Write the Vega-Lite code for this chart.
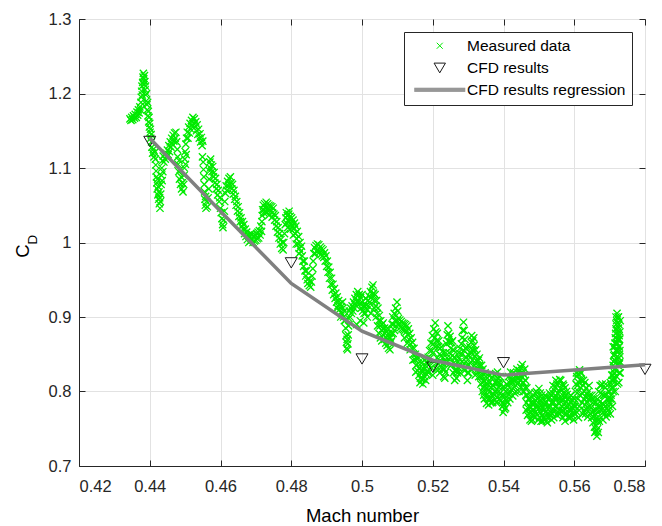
{
"$schema": "https://vega.github.io/schema/vega-lite/v6.json",
"width": 566, "height": 447,
"autosize": {"type": "none"},
"padding": {"left": 79, "top": 19, "right": 17, "bottom": 60},
"background": "white",
"config": {
 "view": {"stroke": "#262626", "strokeWidth": 1},
 "axis": {"labelFont": "Liberation Sans", "labelFontSize": 16.5, "labelColor": "#262626", "titleFont": "Liberation Sans", "titleFontWeight": "normal", "titleColor": "#000000", "domainColor": "#262626", "tickColor": "#262626", "gridColor": "#e2e2e2", "gridWidth": 1, "gridOpacity": 1},
 "legend": {"orient": "top-right", "offset": 13, "padding": 6, "strokeColor": "#262626", "fillColor": "white", "labelFont": "Liberation Sans", "labelFontSize": 15.5, "labelColor": "#000000", "symbolSize": 36, "symbolStrokeWidth": 1, "symbolOffset": 22, "labelOffset": 19.5, "rowPadding": 5, "labelLimit": 0}
},
"datasets": {
 "measured": [
{"mach":0.4344,"cd":1.166},{"mach":0.4347,"cd":1.164},{"mach":0.4349,"cd":1.168},{"mach":0.4352,"cd":1.165},{"mach":0.4354,"cd":1.170},{"mach":0.4357,"cd":1.167},{"mach":0.4359,"cd":1.172},{"mach":0.4362,"cd":1.168},{"mach":0.4364,"cd":1.175},{"mach":0.4366,"cd":1.171},{"mach":0.4368,"cd":1.178},{"mach":0.4370,"cd":1.174},{"mach":0.4372,"cd":1.182},{"mach":0.4374,"cd":1.178},{"mach":0.4375,"cd":1.188},{"mach":0.4376,"cd":1.195},{"mach":0.4377,"cd":1.203},{"mach":0.4378,"cd":1.210},{"mach":0.4379,"cd":1.198},{"mach":0.4380,"cd":1.215},{"mach":0.4381,"cd":1.222},{"mach":0.4382,"cd":1.227},{"mach":0.4383,"cd":1.220},{"mach":0.4384,"cd":1.212},{"mach":0.4385,"cd":1.224},{"mach":0.4386,"cd":1.216},{"mach":0.4387,"cd":1.205},{"mach":0.4388,"cd":1.210},{"mach":0.4389,"cd":1.198},{"mach":0.4390,"cd":1.190},{"mach":0.4391,"cd":1.200},{"mach":0.4392,"cd":1.185},{"mach":0.4393,"cd":1.178},{"mach":0.4394,"cd":1.188},{"mach":0.4395,"cd":1.170},{"mach":0.4396,"cd":1.176},{"mach":0.4397,"cd":1.162},{"mach":0.4398,"cd":1.168},{"mach":0.4399,"cd":1.155},{"mach":0.4400,"cd":1.160},{"mach":0.4401,"cd":1.148},{"mach":0.4402,"cd":1.152},{"mach":0.4403,"cd":1.140},{"mach":0.4404,"cd":1.145},{"mach":0.4405,"cd":1.135},
{"mach":0.4406,"cd":1.128},{"mach":0.4408,"cd":1.120},{"mach":0.4410,"cd":1.125},{"mach":0.4412,"cd":1.115},{"mach":0.4414,"cd":1.121},{"mach":0.4416,"cd":1.112},{"mach":0.4417,"cd":1.104},{"mach":0.4418,"cd":1.096},{"mach":0.4419,"cd":1.088},{"mach":0.4420,"cd":1.080},{"mach":0.4421,"cd":1.072},{"mach":0.4422,"cd":1.085},{"mach":0.4423,"cd":1.064},{"mach":0.4424,"cd":1.075},{"mach":0.4425,"cd":1.058},{"mach":0.4426,"cd":1.068},{"mach":0.4427,"cd":1.052},{"mach":0.4428,"cd":1.060},{"mach":0.4429,"cd":1.046},{"mach":0.4430,"cd":1.055},{"mach":0.4431,"cd":1.065},{"mach":0.4432,"cd":1.078},{"mach":0.4433,"cd":1.090},{"mach":0.4434,"cd":1.100},{"mach":0.4435,"cd":1.083},{"mach":0.4436,"cd":1.110},{"mach":0.4437,"cd":1.095},{"mach":0.4438,"cd":1.116},{"mach":0.4440,"cd":1.108},{"mach":0.4442,"cd":1.118},{"mach":0.4444,"cd":1.112},{"mach":0.4446,"cd":1.120},
{"mach":0.4448,"cd":1.115},{"mach":0.4450,"cd":1.124},{"mach":0.4452,"cd":1.118},{"mach":0.4454,"cd":1.130},{"mach":0.4456,"cd":1.122},{"mach":0.4458,"cd":1.135},{"mach":0.4460,"cd":1.128},{"mach":0.4462,"cd":1.140},{"mach":0.4464,"cd":1.132},{"mach":0.4466,"cd":1.144},{"mach":0.4468,"cd":1.136},{"mach":0.4470,"cd":1.147},{"mach":0.4472,"cd":1.140},{"mach":0.4474,"cd":1.148},
{"mach":0.4476,"cd":1.135},{"mach":0.4478,"cd":1.125},{"mach":0.4479,"cd":1.115},{"mach":0.4480,"cd":1.105},{"mach":0.4482,"cd":1.095},{"mach":0.4483,"cd":1.110},{"mach":0.4484,"cd":1.085},{"mach":0.4486,"cd":1.098},{"mach":0.4487,"cd":1.078},{"mach":0.4489,"cd":1.088},{"mach":0.4490,"cd":1.072},{"mach":0.4492,"cd":1.080},{"mach":0.4494,"cd":1.068},{"mach":0.4496,"cd":1.078},{"mach":0.4497,"cd":1.090},{"mach":0.4498,"cd":1.100},{"mach":0.4499,"cd":1.112},{"mach":0.4500,"cd":1.122},{"mach":0.4501,"cd":1.105},{"mach":0.4502,"cd":1.132},{"mach":0.4503,"cd":1.118},{"mach":0.4504,"cd":1.140},
{"mach":0.4506,"cd":1.148},{"mach":0.4508,"cd":1.140},{"mach":0.4510,"cd":1.155},{"mach":0.4512,"cd":1.147},{"mach":0.4514,"cd":1.160},{"mach":0.4516,"cd":1.152},{"mach":0.4518,"cd":1.164},{"mach":0.4520,"cd":1.156},{"mach":0.4522,"cd":1.168},{"mach":0.4524,"cd":1.160},{"mach":0.4526,"cd":1.166},{"mach":0.4528,"cd":1.155},{"mach":0.4530,"cd":1.162},{"mach":0.4532,"cd":1.150},{"mach":0.4534,"cd":1.158},{"mach":0.4536,"cd":1.145},{"mach":0.4538,"cd":1.152},{"mach":0.4540,"cd":1.140},{"mach":0.4542,"cd":1.146},{"mach":0.4544,"cd":1.135},{"mach":0.4546,"cd":1.141},{"mach":0.4548,"cd":1.130},{"mach":0.4550,"cd":1.136},
{"mach":0.4549,"cd":1.115},{"mach":0.4551,"cd":1.108},{"mach":0.4552,"cd":1.098},{"mach":0.4553,"cd":1.088},{"mach":0.4554,"cd":1.078},{"mach":0.4555,"cd":1.068},{"mach":0.4556,"cd":1.058},{"mach":0.4557,"cd":1.050},{"mach":0.4558,"cd":1.062},{"mach":0.4559,"cd":1.046},{"mach":0.4561,"cd":1.055},{"mach":0.4563,"cd":1.048},{"mach":0.4565,"cd":1.060},{"mach":0.4567,"cd":1.072},{"mach":0.4568,"cd":1.085},{"mach":0.4569,"cd":1.096},{"mach":0.4570,"cd":1.108},{"mach":0.4571,"cd":1.100},{"mach":0.4572,"cd":1.112},{"mach":0.4574,"cd":1.104},{"mach":0.4576,"cd":1.095},{"mach":0.4578,"cd":1.102},{"mach":0.4580,"cd":1.088},{"mach":0.4582,"cd":1.094},{"mach":0.4584,"cd":1.080},{"mach":0.4586,"cd":1.086},{"mach":0.4588,"cd":1.072},{"mach":0.4590,"cd":1.078},{"mach":0.4592,"cd":1.064},{"mach":0.4594,"cd":1.070},{"mach":0.4596,"cd":1.055},{"mach":0.4598,"cd":1.060},{"mach":0.4600,"cd":1.046},{"mach":0.4602,"cd":1.040},{"mach":0.4604,"cd":1.032},{"mach":0.4606,"cd":1.024},{"mach":0.4607,"cd":1.020},{"mach":0.4609,"cd":1.030},{"mach":0.4611,"cd":1.042},{"mach":0.4612,"cd":1.055},{"mach":0.4614,"cd":1.066},{"mach":0.4616,"cd":1.076},{"mach":0.4618,"cd":1.070},{"mach":0.4620,"cd":1.082},{"mach":0.4622,"cd":1.076},{"mach":0.4624,"cd":1.086},{"mach":0.4626,"cd":1.078},{"mach":0.4628,"cd":1.088},
{"mach":0.4630,"cd":1.080},{"mach":0.4632,"cd":1.072},{"mach":0.4634,"cd":1.078},{"mach":0.4636,"cd":1.065},{"mach":0.4638,"cd":1.070},{"mach":0.4640,"cd":1.058},{"mach":0.4642,"cd":1.062},{"mach":0.4644,"cd":1.050},{"mach":0.4646,"cd":1.055},{"mach":0.4648,"cd":1.042},{"mach":0.4650,"cd":1.048},{"mach":0.4652,"cd":1.035},{"mach":0.4654,"cd":1.040},{"mach":0.4656,"cd":1.028},{"mach":0.4658,"cd":1.033},{"mach":0.4660,"cd":1.022},{"mach":0.4662,"cd":1.028},{"mach":0.4664,"cd":1.018},{"mach":0.4666,"cd":1.024},{"mach":0.4668,"cd":1.012},{"mach":0.4670,"cd":1.018},{"mach":0.4672,"cd":1.008},{"mach":0.4674,"cd":1.014},{"mach":0.4676,"cd":1.004},{"mach":0.4678,"cd":1.010},{"mach":0.4680,"cd":1.000},{"mach":0.4682,"cd":1.008},{"mach":0.4684,"cd":1.002},{"mach":0.4686,"cd":1.012},{"mach":0.4688,"cd":1.004},{"mach":0.4690,"cd":1.010},{"mach":0.4692,"cd":1.000},{"mach":0.4694,"cd":1.008},{"mach":0.4696,"cd":1.002},{"mach":0.4698,"cd":1.010},{"mach":0.4700,"cd":1.003},{"mach":0.4702,"cd":1.012},{"mach":0.4704,"cd":1.005},{"mach":0.4706,"cd":1.014},{"mach":0.4708,"cd":1.006},{"mach":0.4710,"cd":1.016},{"mach":0.4712,"cd":1.010},{"mach":0.4714,"cd":1.022},{"mach":0.4716,"cd":1.015},
{"mach":0.4717,"cd":1.028},{"mach":0.4718,"cd":1.036},{"mach":0.4719,"cd":1.044},{"mach":0.4721,"cd":1.050},{"mach":0.4723,"cd":1.044},{"mach":0.4725,"cd":1.052},{"mach":0.4727,"cd":1.046},{"mach":0.4729,"cd":1.054},{"mach":0.4731,"cd":1.047},{"mach":0.4733,"cd":1.052},{"mach":0.4735,"cd":1.045},{"mach":0.4737,"cd":1.050},{"mach":0.4739,"cd":1.043},{"mach":0.4741,"cd":1.049},{"mach":0.4743,"cd":1.042},{"mach":0.4745,"cd":1.048},{"mach":0.4747,"cd":1.040},{"mach":0.4749,"cd":1.046},{"mach":0.4751,"cd":1.038},
{"mach":0.4753,"cd":1.030},{"mach":0.4755,"cd":1.036},{"mach":0.4757,"cd":1.022},{"mach":0.4759,"cd":1.028},{"mach":0.4761,"cd":1.014},{"mach":0.4763,"cd":1.020},{"mach":0.4765,"cd":1.006},{"mach":0.4767,"cd":1.012},{"mach":0.4769,"cd":0.998},{"mach":0.4771,"cd":1.004},{"mach":0.4773,"cd":0.992},{"mach":0.4775,"cd":1.000},{"mach":0.4777,"cd":0.990},
{"mach":0.4779,"cd":1.000},{"mach":0.4781,"cd":1.012},{"mach":0.4783,"cd":1.024},{"mach":0.4785,"cd":1.033},{"mach":0.4787,"cd":1.026},{"mach":0.4789,"cd":1.036},{"mach":0.4791,"cd":1.030},{"mach":0.4793,"cd":1.038},{"mach":0.4795,"cd":1.028},{"mach":0.4797,"cd":1.035},{"mach":0.4799,"cd":1.025},{"mach":0.4801,"cd":1.033},{"mach":0.4803,"cd":1.022},{"mach":0.4805,"cd":1.030},{"mach":0.4807,"cd":1.018},{"mach":0.4809,"cd":1.026},{"mach":0.4811,"cd":1.012},{"mach":0.4813,"cd":1.022},{"mach":0.4815,"cd":1.005},{"mach":0.4817,"cd":1.015},{"mach":0.4819,"cd":0.998},{"mach":0.4821,"cd":1.008},{"mach":0.4823,"cd":0.992},{"mach":0.4825,"cd":1.000},{"mach":0.4827,"cd":0.988},{"mach":0.4829,"cd":0.995},
{"mach":0.4831,"cd":0.982},{"mach":0.4833,"cd":0.975},{"mach":0.4835,"cd":0.968},{"mach":0.4837,"cd":0.975},{"mach":0.4839,"cd":0.962},{"mach":0.4841,"cd":0.955},{"mach":0.4843,"cd":0.962},{"mach":0.4845,"cd":0.950},{"mach":0.4847,"cd":0.945},{"mach":0.4849,"cd":0.952},{"mach":0.4851,"cd":0.942},{"mach":0.4853,"cd":0.948},{"mach":0.4855,"cd":0.940},{"mach":0.4857,"cd":0.947},{"mach":0.4859,"cd":0.955},{"mach":0.4861,"cd":0.965},{"mach":0.4862,"cd":0.975},
{"mach":0.4864,"cd":0.985},{"mach":0.4866,"cd":0.993},{"mach":0.4868,"cd":0.985},{"mach":0.4870,"cd":0.996},{"mach":0.4872,"cd":0.988},{"mach":0.4874,"cd":0.998},{"mach":0.4876,"cd":0.990},{"mach":0.4878,"cd":0.997},{"mach":0.4880,"cd":0.987},{"mach":0.4882,"cd":0.994},{"mach":0.4884,"cd":0.984},{"mach":0.4886,"cd":0.992},{"mach":0.4888,"cd":0.982},{"mach":0.4890,"cd":0.990},{"mach":0.4892,"cd":0.980},{"mach":0.4894,"cd":0.986},{"mach":0.4896,"cd":0.975},{"mach":0.4898,"cd":0.982},
{"mach":0.4900,"cd":0.968},{"mach":0.4902,"cd":0.975},{"mach":0.4904,"cd":0.960},{"mach":0.4906,"cd":0.967},{"mach":0.4908,"cd":0.952},{"mach":0.4910,"cd":0.960},{"mach":0.4912,"cd":0.944},{"mach":0.4914,"cd":0.952},{"mach":0.4916,"cd":0.936},{"mach":0.4918,"cd":0.944},{"mach":0.4920,"cd":0.930},{"mach":0.4922,"cd":0.938},{"mach":0.4924,"cd":0.925},{"mach":0.4926,"cd":0.932},
{"mach":0.4928,"cd":0.920},{"mach":0.4930,"cd":0.927},{"mach":0.4932,"cd":0.915},{"mach":0.4934,"cd":0.922},{"mach":0.4936,"cd":0.910},{"mach":0.4938,"cd":0.918},{"mach":0.4940,"cd":0.906},{"mach":0.4942,"cd":0.914},{"mach":0.4944,"cd":0.904},{"mach":0.4946,"cd":0.912},{"mach":0.4948,"cd":0.900},{"mach":0.4950,"cd":0.908},{"mach":0.4952,"cd":0.895},{"mach":0.4954,"cd":0.885},{"mach":0.4955,"cd":0.875},{"mach":0.4956,"cd":0.866},{"mach":0.4957,"cd":0.858},{"mach":0.4958,"cd":0.870},{"mach":0.4959,"cd":0.856},{"mach":0.4960,"cd":0.864},{"mach":0.4961,"cd":0.876},{"mach":0.4962,"cd":0.888},{"mach":0.4963,"cd":0.898},{"mach":0.4964,"cd":0.908},{"mach":0.4966,"cd":0.900},{"mach":0.4968,"cd":0.912},
{"mach":0.4970,"cd":0.905},{"mach":0.4972,"cd":0.915},{"mach":0.4974,"cd":0.908},{"mach":0.4976,"cd":0.920},{"mach":0.4978,"cd":0.912},{"mach":0.4980,"cd":0.925},{"mach":0.4982,"cd":0.916},{"mach":0.4984,"cd":0.930},{"mach":0.4986,"cd":0.920},{"mach":0.4988,"cd":0.934},{"mach":0.4990,"cd":0.922},{"mach":0.4992,"cd":0.930},{"mach":0.4994,"cd":0.918},{"mach":0.4996,"cd":0.926},{"mach":0.4998,"cd":0.912},{"mach":0.5000,"cd":0.920},{"mach":0.5002,"cd":0.908},{"mach":0.5004,"cd":0.915},{"mach":0.5006,"cd":0.905},{"mach":0.5008,"cd":0.914},{"mach":0.5010,"cd":0.905},{"mach":0.5012,"cd":0.916},{"mach":0.5014,"cd":0.910},{"mach":0.5016,"cd":0.922},{"mach":0.5018,"cd":0.915},{"mach":0.5020,"cd":0.928},{"mach":0.5022,"cd":0.920},{"mach":0.5024,"cd":0.934},{"mach":0.5026,"cd":0.926},{"mach":0.5028,"cd":0.940},{"mach":0.5030,"cd":0.930},{"mach":0.5031,"cd":0.943},{"mach":0.5033,"cd":0.932},{"mach":0.5035,"cd":0.922},{"mach":0.5037,"cd":0.930},{"mach":0.5039,"cd":0.915},{"mach":0.5041,"cd":0.922},{"mach":0.5043,"cd":0.905},{"mach":0.5045,"cd":0.912},{"mach":0.5047,"cd":0.895},{"mach":0.5049,"cd":0.902},{"mach":0.5051,"cd":0.888},{"mach":0.5053,"cd":0.895},
{"mach":0.5055,"cd":0.882},{"mach":0.5057,"cd":0.890},{"mach":0.5059,"cd":0.876},{"mach":0.5061,"cd":0.884},{"mach":0.5063,"cd":0.870},{"mach":0.5065,"cd":0.878},{"mach":0.5067,"cd":0.865},{"mach":0.5069,"cd":0.872},{"mach":0.5071,"cd":0.862},{"mach":0.5073,"cd":0.870},{"mach":0.5075,"cd":0.858},{"mach":0.5077,"cd":0.866},{"mach":0.5079,"cd":0.856},{"mach":0.5081,"cd":0.866},{"mach":0.5083,"cd":0.878},{"mach":0.5085,"cd":0.890},{"mach":0.5087,"cd":0.900},{"mach":0.5089,"cd":0.890},{"mach":0.5091,"cd":0.905},{"mach":0.5093,"cd":0.895},{"mach":0.5095,"cd":0.912},{"mach":0.5097,"cd":0.902},{"mach":0.5099,"cd":0.920},{"mach":0.5101,"cd":0.908},{"mach":0.5103,"cd":0.898},
{"mach":0.5105,"cd":0.890},{"mach":0.5107,"cd":0.896},{"mach":0.5109,"cd":0.886},{"mach":0.5111,"cd":0.894},{"mach":0.5113,"cd":0.884},{"mach":0.5115,"cd":0.892},{"mach":0.5117,"cd":0.883},{"mach":0.5119,"cd":0.891},{"mach":0.5121,"cd":0.882},{"mach":0.5123,"cd":0.890},{"mach":0.5125,"cd":0.880},{"mach":0.5127,"cd":0.888},{"mach":0.5129,"cd":0.876},{"mach":0.5131,"cd":0.884},{"mach":0.5133,"cd":0.870},{"mach":0.5135,"cd":0.878},{"mach":0.5137,"cd":0.864},{"mach":0.5139,"cd":0.872},{"mach":0.5141,"cd":0.858},{"mach":0.5143,"cd":0.866},{"mach":0.5145,"cd":0.850},{"mach":0.5147,"cd":0.858},{"mach":0.5149,"cd":0.843},{"mach":0.5151,"cd":0.850},{"mach":0.5153,"cd":0.835},{"mach":0.5155,"cd":0.844},{"mach":0.5157,"cd":0.828},{"mach":0.5159,"cd":0.838},{"mach":0.5161,"cd":0.822},{"mach":0.5163,"cd":0.832},{"mach":0.5165,"cd":0.818},{"mach":0.5167,"cd":0.828},{"mach":0.5169,"cd":0.816},{"mach":0.5171,"cd":0.826},{"mach":0.5173,"cd":0.817},{"mach":0.5175,"cd":0.830},{"mach":0.5177,"cd":0.820},{"mach":0.5179,"cd":0.835},{"mach":0.5181,"cd":0.824},{"mach":0.5183,"cd":0.840},{"mach":0.5185,"cd":0.828},
{"mach":0.5187,"cd":0.846},{"mach":0.5189,"cd":0.836},{"mach":0.5191,"cd":0.855},{"mach":0.5193,"cd":0.845},{"mach":0.5195,"cd":0.865},{"mach":0.5197,"cd":0.855},{"mach":0.5199,"cd":0.875},{"mach":0.5201,"cd":0.864},{"mach":0.5203,"cd":0.884},{"mach":0.5205,"cd":0.872},{"mach":0.5207,"cd":0.892},{"mach":0.5209,"cd":0.880},{"mach":0.5211,"cd":0.868},{"mach":0.5213,"cd":0.878},{"mach":0.5215,"cd":0.860},{"mach":0.5217,"cd":0.868},{"mach":0.5219,"cd":0.850},{"mach":0.5221,"cd":0.858},{"mach":0.5223,"cd":0.840},{"mach":0.5225,"cd":0.848},{"mach":0.5227,"cd":0.830},{"mach":0.5229,"cd":0.838},{"mach":0.5231,"cd":0.820},{"mach":0.5233,"cd":0.830},{"mach":0.5235,"cd":0.840},{"mach":0.5237,"cd":0.852},{"mach":0.5239,"cd":0.864},{"mach":0.5241,"cd":0.876},{"mach":0.5243,"cd":0.888},{"mach":0.5245,"cd":0.878},{"mach":0.5247,"cd":0.866},{"mach":0.5249,"cd":0.874},
{"mach":0.5251,"cd":0.858},{"mach":0.5253,"cd":0.866},{"mach":0.5255,"cd":0.848},{"mach":0.5257,"cd":0.856},{"mach":0.5259,"cd":0.838},{"mach":0.5261,"cd":0.846},{"mach":0.5263,"cd":0.828},{"mach":0.5265,"cd":0.836},{"mach":0.5267,"cd":0.818},{"mach":0.5269,"cd":0.828},{"mach":0.5271,"cd":0.840},{"mach":0.5273,"cd":0.852},{"mach":0.5275,"cd":0.845},{"mach":0.5277,"cd":0.858},{"mach":0.5279,"cd":0.850},{"mach":0.5281,"cd":0.864},{"mach":0.5283,"cd":0.872},{"mach":0.5285,"cd":0.882},{"mach":0.5287,"cd":0.893},{"mach":0.5289,"cd":0.882},{"mach":0.5291,"cd":0.870},{"mach":0.5293,"cd":0.858},{"mach":0.5295,"cd":0.846},{"mach":0.5297,"cd":0.835},{"mach":0.5299,"cd":0.825},{"mach":0.5301,"cd":0.836},
{"mach":0.5303,"cd":0.848},{"mach":0.5305,"cd":0.860},{"mach":0.5307,"cd":0.852},{"mach":0.5309,"cd":0.866},{"mach":0.5311,"cd":0.856},{"mach":0.5313,"cd":0.868},{"mach":0.5315,"cd":0.855},{"mach":0.5317,"cd":0.862},{"mach":0.5319,"cd":0.848},{"mach":0.5321,"cd":0.856},{"mach":0.5323,"cd":0.842},{"mach":0.5325,"cd":0.850},{"mach":0.5327,"cd":0.835},{"mach":0.5329,"cd":0.842},{"mach":0.5331,"cd":0.828},{"mach":0.5333,"cd":0.835},{"mach":0.5335,"cd":0.820},{"mach":0.5337,"cd":0.828},
{"mach":0.5339,"cd":0.812},{"mach":0.5341,"cd":0.820},{"mach":0.5343,"cd":0.805},{"mach":0.5345,"cd":0.814},{"mach":0.5347,"cd":0.800},{"mach":0.5349,"cd":0.810},{"mach":0.5351,"cd":0.795},{"mach":0.5353,"cd":0.805},{"mach":0.5355,"cd":0.792},{"mach":0.5357,"cd":0.802},{"mach":0.5359,"cd":0.790},{"mach":0.5361,"cd":0.800},{"mach":0.5363,"cd":0.792},{"mach":0.5365,"cd":0.805},{"mach":0.5367,"cd":0.795},{"mach":0.5369,"cd":0.808},{"mach":0.5371,"cd":0.797},{"mach":0.5373,"cd":0.822},{"mach":0.5375,"cd":0.800},{"mach":0.5377,"cd":0.812},{"mach":0.5379,"cd":0.800},{"mach":0.5381,"cd":0.815},{"mach":0.5383,"cd":0.826},{"mach":0.5385,"cd":0.818},{"mach":0.5387,"cd":0.806},{"mach":0.5389,"cd":0.812},{"mach":0.5391,"cd":0.798},
{"mach":0.5393,"cd":0.788},{"mach":0.5395,"cd":0.795},{"mach":0.5397,"cd":0.780},{"mach":0.5399,"cd":0.772},{"mach":0.5401,"cd":0.782},{"mach":0.5403,"cd":0.776},{"mach":0.5405,"cd":0.790},{"mach":0.5407,"cd":0.800},{"mach":0.5409,"cd":0.810},
{"mach":0.5411,"cd":0.798},{"mach":0.5413,"cd":0.808},{"mach":0.5415,"cd":0.796},{"mach":0.5417,"cd":0.812},{"mach":0.5419,"cd":0.800},{"mach":0.5421,"cd":0.815},{"mach":0.5423,"cd":0.802},{"mach":0.5425,"cd":0.816},{"mach":0.5427,"cd":0.804},{"mach":0.5429,"cd":0.818},{"mach":0.5431,"cd":0.806},{"mach":0.5433,"cd":0.820},{"mach":0.5435,"cd":0.808},{"mach":0.5437,"cd":0.822},{"mach":0.5439,"cd":0.810},{"mach":0.5441,"cd":0.825},{"mach":0.5443,"cd":0.812},{"mach":0.5445,"cd":0.828},{"mach":0.5447,"cd":0.815},{"mach":0.5449,"cd":0.832},{"mach":0.5451,"cd":0.820},{"mach":0.5453,"cd":0.836},{"mach":0.5455,"cd":0.825},{"mach":0.5457,"cd":0.812},{"mach":0.5459,"cd":0.822},{"mach":0.5461,"cd":0.805},
{"mach":0.5463,"cd":0.795},{"mach":0.5465,"cd":0.785},{"mach":0.5467,"cd":0.795},{"mach":0.5469,"cd":0.778},{"mach":0.5471,"cd":0.770},{"mach":0.5473,"cd":0.780},{"mach":0.5475,"cd":0.762},{"mach":0.5477,"cd":0.772},{"mach":0.5479,"cd":0.760},{"mach":0.5481,"cd":0.770},{"mach":0.5483,"cd":0.782},{"mach":0.5485,"cd":0.795},{"mach":0.5487,"cd":0.785},{"mach":0.5489,"cd":0.798},{"mach":0.5491,"cd":0.788},{"mach":0.5493,"cd":0.800},{"mach":0.5495,"cd":0.790},{"mach":0.5497,"cd":0.780},{"mach":0.5499,"cd":0.792},{"mach":0.5501,"cd":0.778},{"mach":0.5503,"cd":0.788},{"mach":0.5505,"cd":0.772},{"mach":0.5507,"cd":0.782},{"mach":0.5509,"cd":0.768},{"mach":0.5511,"cd":0.778},{"mach":0.5513,"cd":0.765},{"mach":0.5515,"cd":0.775},{"mach":0.5517,"cd":0.762},{"mach":0.5519,"cd":0.772},{"mach":0.5521,"cd":0.760},{"mach":0.5523,"cd":0.770},{"mach":0.5525,"cd":0.780},{"mach":0.5527,"cd":0.790},{"mach":0.5529,"cd":0.778},{"mach":0.5531,"cd":0.792},{"mach":0.5533,"cd":0.780},{"mach":0.5535,"cd":0.795},
{"mach":0.5537,"cd":0.784},{"mach":0.5539,"cd":0.798},{"mach":0.5541,"cd":0.786},{"mach":0.5543,"cd":0.802},{"mach":0.5545,"cd":0.790},{"mach":0.5547,"cd":0.806},{"mach":0.5549,"cd":0.794},{"mach":0.5551,"cd":0.810},{"mach":0.5553,"cd":0.798},{"mach":0.5555,"cd":0.812},{"mach":0.5557,"cd":0.800},{"mach":0.5559,"cd":0.816},{"mach":0.5561,"cd":0.804},{"mach":0.5563,"cd":0.792},{"mach":0.5565,"cd":0.802},{"mach":0.5567,"cd":0.788},{"mach":0.5569,"cd":0.798},{"mach":0.5571,"cd":0.782},{"mach":0.5573,"cd":0.792},{"mach":0.5575,"cd":0.776},{"mach":0.5577,"cd":0.786},{"mach":0.5579,"cd":0.770},{"mach":0.5581,"cd":0.780},{"mach":0.5583,"cd":0.766},{"mach":0.5585,"cd":0.776},
{"mach":0.5587,"cd":0.764},{"mach":0.5589,"cd":0.774},{"mach":0.5591,"cd":0.766},{"mach":0.5593,"cd":0.778},{"mach":0.5595,"cd":0.768},{"mach":0.5597,"cd":0.782},{"mach":0.5599,"cd":0.772},{"mach":0.5601,"cd":0.790},{"mach":0.5603,"cd":0.800},{"mach":0.5605,"cd":0.810},{"mach":0.5607,"cd":0.820},{"mach":0.5609,"cd":0.808},{"mach":0.5611,"cd":0.824},{"mach":0.5613,"cd":0.812},{"mach":0.5615,"cd":0.829},{"mach":0.5617,"cd":0.816},{"mach":0.5619,"cd":0.805},{"mach":0.5621,"cd":0.815},{"mach":0.5623,"cd":0.798},{"mach":0.5625,"cd":0.808},{"mach":0.5627,"cd":0.790},{"mach":0.5629,"cd":0.800},{"mach":0.5631,"cd":0.782},{"mach":0.5633,"cd":0.792},{"mach":0.5635,"cd":0.776},{"mach":0.5637,"cd":0.786},{"mach":0.5639,"cd":0.778},{"mach":0.5641,"cd":0.790},{"mach":0.5643,"cd":0.780},{"mach":0.5645,"cd":0.770},
{"mach":0.5647,"cd":0.778},{"mach":0.5649,"cd":0.765},{"mach":0.5651,"cd":0.772},{"mach":0.5653,"cd":0.758},{"mach":0.5655,"cd":0.766},{"mach":0.5657,"cd":0.752},{"mach":0.5659,"cd":0.760},{"mach":0.5661,"cd":0.746},{"mach":0.5663,"cd":0.754},{"mach":0.5664,"cd":0.740},{"mach":0.5666,"cd":0.750},{"mach":0.5668,"cd":0.762},{"mach":0.5670,"cd":0.774},{"mach":0.5672,"cd":0.786},{"mach":0.5674,"cd":0.798},{"mach":0.5676,"cd":0.808},{"mach":0.5678,"cd":0.796},{"mach":0.5680,"cd":0.784},{"mach":0.5682,"cd":0.772},{"mach":0.5684,"cd":0.782},{"mach":0.5686,"cd":0.770},
{"mach":0.5688,"cd":0.780},{"mach":0.5690,"cd":0.766},{"mach":0.5692,"cd":0.778},{"mach":0.5694,"cd":0.790},{"mach":0.5696,"cd":0.775},{"mach":0.5698,"cd":0.800},{"mach":0.5700,"cd":0.785},{"mach":0.5702,"cd":0.812},{"mach":0.5704,"cd":0.795},{"mach":0.5706,"cd":0.822},{"mach":0.5708,"cd":0.805},{"mach":0.5710,"cd":0.835},{"mach":0.5711,"cd":0.818},{"mach":0.5712,"cd":0.848},{"mach":0.5713,"cd":0.830},{"mach":0.5714,"cd":0.860},{"mach":0.5715,"cd":0.842},{"mach":0.5716,"cd":0.872},{"mach":0.5717,"cd":0.855},{"mach":0.5718,"cd":0.884},{"mach":0.5719,"cd":0.866},{"mach":0.5720,"cd":0.895},{"mach":0.5721,"cd":0.905},{"mach":0.5722,"cd":0.880},{"mach":0.5723,"cd":0.892},{"mach":0.5724,"cd":0.870},{"mach":0.5725,"cd":0.885},{"mach":0.5726,"cd":0.860},{"mach":0.5727,"cd":0.875},{"mach":0.5728,"cd":0.850},{"mach":0.5728,"cd":0.838},{"mach":0.5727,"cd":0.825},{"mach":0.5726,"cd":0.812},
{"mach":0.4722,"cd":1.040},{"mach":0.4730,"cd":1.040},{"mach":0.4738,"cd":1.037},{"mach":0.4746,"cd":1.034},{"mach":0.4786,"cd":1.040},{"mach":0.4794,"cd":1.042},{"mach":0.4790,"cd":1.020},{"mach":0.4798,"cd":1.018},{"mach":0.4806,"cd":1.010},{"mach":0.4814,"cd":0.998},{"mach":0.4822,"cd":0.985},
{"mach":0.4930,"cd":0.912},{"mach":0.4940,"cd":0.900},{"mach":0.4950,"cd":0.895},{"mach":0.4945,"cd":0.920},
{"mach":0.4985,"cd":0.890},{"mach":0.4995,"cd":0.895},{"mach":0.5005,"cd":0.892},{"mach":0.5015,"cd":0.900},{"mach":0.5025,"cd":0.905},{"mach":0.5035,"cd":0.912},{"mach":0.5010,"cd":0.925},{"mach":0.5000,"cd":0.930},
{"mach":0.5040,"cd":0.900},{"mach":0.5044,"cd":0.888},{"mach":0.5048,"cd":0.878},{"mach":0.5052,"cd":0.872},{"mach":0.5056,"cd":0.868},{"mach":0.5060,"cd":0.892},{"mach":0.5064,"cd":0.885},{"mach":0.5068,"cd":0.880},{"mach":0.5072,"cd":0.885},{"mach":0.5076,"cd":0.878},{"mach":0.5080,"cd":0.872},{"mach":0.5084,"cd":0.868},{"mach":0.5088,"cd":0.878},{"mach":0.5092,"cd":0.882},{"mach":0.5096,"cd":0.888},{"mach":0.5100,"cd":0.895},
{"mach":0.5120,"cd":0.872},{"mach":0.5128,"cd":0.865},{"mach":0.5136,"cd":0.856},{"mach":0.5144,"cd":0.842},{"mach":0.5152,"cd":0.826},{"mach":0.5160,"cd":0.845},{"mach":0.5168,"cd":0.838},{"mach":0.5176,"cd":0.842},{"mach":0.5184,"cd":0.838},{"mach":0.5164,"cd":0.812},{"mach":0.5172,"cd":0.810},
{"mach":0.5180,"cd":0.815},{"mach":0.5188,"cd":0.825},{"mach":0.5196,"cd":0.832},{"mach":0.5204,"cd":0.840},{"mach":0.5212,"cd":0.845},{"mach":0.5200,"cd":0.822},{"mach":0.5210,"cd":0.830},{"mach":0.5220,"cd":0.825},{"mach":0.5228,"cd":0.845},{"mach":0.5236,"cd":0.826},
{"mach":0.5240,"cd":0.845},{"mach":0.5246,"cd":0.852},{"mach":0.5252,"cd":0.835},{"mach":0.5258,"cd":0.825},{"mach":0.5264,"cd":0.845},{"mach":0.5270,"cd":0.825},{"mach":0.5276,"cd":0.835},{"mach":0.5282,"cd":0.840},{"mach":0.5288,"cd":0.855},{"mach":0.5294,"cd":0.840},{"mach":0.5300,"cd":0.850},{"mach":0.5298,"cd":0.815},{"mach":0.5262,"cd":0.815},
{"mach":0.5306,"cd":0.838},{"mach":0.5312,"cd":0.842},{"mach":0.5318,"cd":0.835},{"mach":0.5324,"cd":0.828},{"mach":0.5330,"cd":0.820},{"mach":0.5336,"cd":0.810},{"mach":0.5310,"cd":0.875},{"mach":0.5316,"cd":0.872},
{"mach":0.5342,"cd":0.830},{"mach":0.5348,"cd":0.825},{"mach":0.5354,"cd":0.818},{"mach":0.5360,"cd":0.812},{"mach":0.5366,"cd":0.818},{"mach":0.5372,"cd":0.808},{"mach":0.5378,"cd":0.824},{"mach":0.5384,"cd":0.812},{"mach":0.5390,"cd":0.820},{"mach":0.5346,"cd":0.790},{"mach":0.5352,"cd":0.784},{"mach":0.5358,"cd":0.782},{"mach":0.5364,"cd":0.785},{"mach":0.5370,"cd":0.786},{"mach":0.5376,"cd":0.789},{"mach":0.5382,"cd":0.792},{"mach":0.5388,"cd":0.790},{"mach":0.5396,"cd":0.805},{"mach":0.5402,"cd":0.795},{"mach":0.5406,"cd":0.778},
{"mach":0.5414,"cd":0.820},{"mach":0.5420,"cd":0.826},{"mach":0.5426,"cd":0.794},{"mach":0.5432,"cd":0.798},{"mach":0.5438,"cd":0.830},{"mach":0.5444,"cd":0.800},{"mach":0.5450,"cd":0.806},{"mach":0.5456,"cd":0.800},{"mach":0.5462,"cd":0.815},{"mach":0.5428,"cd":0.825},
{"mach":0.5466,"cd":0.805},{"mach":0.5472,"cd":0.790},{"mach":0.5478,"cd":0.785},{"mach":0.5484,"cd":0.768},{"mach":0.5490,"cd":0.772},{"mach":0.5496,"cd":0.798},{"mach":0.5502,"cd":0.765},{"mach":0.5508,"cd":0.795},{"mach":0.5514,"cd":0.788},{"mach":0.5520,"cd":0.785},{"mach":0.5526,"cd":0.765},{"mach":0.5532,"cd":0.768},{"mach":0.5494,"cd":0.770},{"mach":0.5500,"cd":0.804},{"mach":0.5510,"cd":0.760},{"mach":0.5518,"cd":0.795},
{"mach":0.5538,"cd":0.770},{"mach":0.5544,"cd":0.774},{"mach":0.5550,"cd":0.780},{"mach":0.5556,"cd":0.785},{"mach":0.5562,"cd":0.815},{"mach":0.5568,"cd":0.810},{"mach":0.5574,"cd":0.805},{"mach":0.5580,"cd":0.796},{"mach":0.5548,"cd":0.815},{"mach":0.5554,"cd":0.772},{"mach":0.5560,"cd":0.790},{"mach":0.5566,"cd":0.775},{"mach":0.5572,"cd":0.770},{"mach":0.5578,"cd":0.800},
{"mach":0.5588,"cd":0.786},{"mach":0.5594,"cd":0.788},{"mach":0.5598,"cd":0.762},
{"mach":0.5604,"cd":0.780},{"mach":0.5610,"cd":0.790},{"mach":0.5616,"cd":0.795},{"mach":0.5622,"cd":0.785},{"mach":0.5628,"cd":0.775},{"mach":0.5634,"cd":0.805},{"mach":0.5640,"cd":0.800},{"mach":0.5606,"cd":0.825},{"mach":0.5612,"cd":0.800},{"mach":0.5620,"cd":0.825},{"mach":0.5626,"cd":0.815},{"mach":0.5632,"cd":0.770},{"mach":0.5644,"cd":0.795},
{"mach":0.5648,"cd":0.790},{"mach":0.5652,"cd":0.785},{"mach":0.5656,"cd":0.775},{"mach":0.5660,"cd":0.770},{"mach":0.5664,"cd":0.765},{"mach":0.5667,"cd":0.780},{"mach":0.5671,"cd":0.760},{"mach":0.5675,"cd":0.780},{"mach":0.5679,"cd":0.810},{"mach":0.5683,"cd":0.795},{"mach":0.5687,"cd":0.805},{"mach":0.5691,"cd":0.795},{"mach":0.5658,"cd":0.745},
{"mach":0.5694,"cd":0.770},{"mach":0.5698,"cd":0.780},{"mach":0.5702,"cd":0.770},{"mach":0.5706,"cd":0.790},{"mach":0.5710,"cd":0.800},{"mach":0.5712,"cd":0.815},{"mach":0.5714,"cd":0.825},{"mach":0.5716,"cd":0.830},{"mach":0.5718,"cd":0.845},{"mach":0.5720,"cd":0.855},{"mach":0.5722,"cd":0.865},{"mach":0.5724,"cd":0.900},{"mach":0.5726,"cd":0.890},{"mach":0.5728,"cd":0.870},{"mach":0.5729,"cd":0.855},{"mach":0.5720,"cd":0.820},{"mach":0.5724,"cd":0.835},{"mach":0.5727,"cd":0.845},{"mach":0.5722,"cd":0.810},{"mach":0.5716,"cd":0.800},{"mach":0.5708,"cd":0.780},
{"mach":0.5464,"cd":0.775},{"mach":0.5468,"cd":0.768},{"mach":0.5470,"cd":0.790},{"mach":0.5474,"cd":0.798},{"mach":0.5476,"cd":0.778},{"mach":0.5480,"cd":0.792},{"mach":0.5482,"cd":0.762},{"mach":0.5486,"cd":0.775},{"mach":0.5488,"cd":0.765},{"mach":0.5492,"cd":0.780},{"mach":0.5498,"cd":0.762},{"mach":0.5504,"cd":0.798},{"mach":0.5506,"cd":0.760},{"mach":0.5512,"cd":0.790},{"mach":0.5516,"cd":0.782},{"mach":0.5522,"cd":0.792},{"mach":0.5524,"cd":0.758},{"mach":0.5528,"cd":0.770},{"mach":0.5530,"cd":0.798},{"mach":0.5534,"cd":0.772},{"mach":0.5536,"cd":0.762},
{"mach":0.5540,"cd":0.808},{"mach":0.5542,"cd":0.765},{"mach":0.5546,"cd":0.780},{"mach":0.5552,"cd":0.790},{"mach":0.5558,"cd":0.775},{"mach":0.5564,"cd":0.780},{"mach":0.5570,"cd":0.808},{"mach":0.5576,"cd":0.795},{"mach":0.5582,"cd":0.790},{"mach":0.5586,"cd":0.782},{"mach":0.5590,"cd":0.795},{"mach":0.5596,"cd":0.792},{"mach":0.5600,"cd":0.780},{"mach":0.5544,"cd":0.792},{"mach":0.5552,"cd":0.768},{"mach":0.5560,"cd":0.770},{"mach":0.5568,"cd":0.765},{"mach":0.5574,"cd":0.760},
{"mach":0.5602,"cd":0.770},{"mach":0.5608,"cd":0.772},{"mach":0.5614,"cd":0.780},{"mach":0.5618,"cd":0.825},{"mach":0.5624,"cd":0.770},{"mach":0.5630,"cd":0.812},{"mach":0.5636,"cd":0.796},{"mach":0.5642,"cd":0.808},{"mach":0.5612,"cd":0.765},{"mach":0.5638,"cd":0.766},
{"mach":0.5650,"cd":0.795},{"mach":0.5654,"cd":0.790},{"mach":0.5660,"cd":0.785},{"mach":0.5662,"cd":0.775},{"mach":0.5666,"cd":0.790},{"mach":0.5669,"cd":0.800},{"mach":0.5673,"cd":0.808},{"mach":0.5677,"cd":0.775},{"mach":0.5681,"cd":0.762},{"mach":0.5685,"cd":0.795},{"mach":0.5689,"cd":0.810},{"mach":0.5665,"cd":0.760},{"mach":0.5662,"cd":0.748},{"mach":0.5668,"cd":0.745},
{"mach":0.5696,"cd":0.790},{"mach":0.5700,"cd":0.800},{"mach":0.5704,"cd":0.808},{"mach":0.5707,"cd":0.815},{"mach":0.5709,"cd":0.822},{"mach":0.5711,"cd":0.840},{"mach":0.5713,"cd":0.850},{"mach":0.5715,"cd":0.865},{"mach":0.5717,"cd":0.878},{"mach":0.5719,"cd":0.890},{"mach":0.5721,"cd":0.870},{"mach":0.5723,"cd":0.855},{"mach":0.5725,"cd":0.845},{"mach":0.5727,"cd":0.860},{"mach":0.5729,"cd":0.880},{"mach":0.5730,"cd":0.895},{"mach":0.5729,"cd":0.840},{"mach":0.5730,"cd":0.825},{"mach":0.5725,"cd":0.900},{"mach":0.5718,"cd":0.900},{"mach":0.5714,"cd":0.842},{"mach":0.5710,"cd":0.860},{"mach":0.5706,"cd":0.805},{"mach":0.5702,"cd":0.790},
{"mach":0.5340,"cd":0.800},{"mach":0.5344,"cd":0.795},{"mach":0.5350,"cd":0.820},{"mach":0.5356,"cd":0.810},{"mach":0.5362,"cd":0.822},{"mach":0.5368,"cd":0.785},{"mach":0.5374,"cd":0.795},{"mach":0.5380,"cd":0.785},{"mach":0.5386,"cd":0.800},{"mach":0.5392,"cd":0.810},{"mach":0.5398,"cd":0.785},{"mach":0.5404,"cd":0.805},{"mach":0.5408,"cd":0.788},{"mach":0.5412,"cd":0.785},{"mach":0.5418,"cd":0.790},{"mach":0.5424,"cd":0.812},{"mach":0.5430,"cd":0.815},{"mach":0.5436,"cd":0.800},{"mach":0.5442,"cd":0.818},{"mach":0.5448,"cd":0.822},{"mach":0.5454,"cd":0.812},{"mach":0.5460,"cd":0.830},{"mach":0.5458,"cd":0.800},
{"mach":0.5202,"cd":0.852},{"mach":0.5208,"cd":0.860},{"mach":0.5214,"cd":0.838},{"mach":0.5218,"cd":0.830},{"mach":0.5224,"cd":0.860},{"mach":0.5230,"cd":0.852},{"mach":0.5234,"cd":0.818},{"mach":0.5238,"cd":0.838},{"mach":0.5244,"cd":0.868},{"mach":0.5250,"cd":0.845},{"mach":0.5256,"cd":0.868},{"mach":0.5260,"cd":0.855},{"mach":0.5266,"cd":0.830},{"mach":0.5272,"cd":0.832},{"mach":0.5278,"cd":0.825},{"mach":0.5284,"cd":0.850},{"mach":0.5290,"cd":0.828},{"mach":0.5296,"cd":0.860},{"mach":0.5302,"cd":0.825},{"mach":0.5308,"cd":0.830},{"mach":0.5314,"cd":0.850},{"mach":0.5320,"cd":0.822},{"mach":0.5326,"cd":0.840},{"mach":0.5332,"cd":0.845},{"mach":0.5338,"cd":0.835}
 ],
 "cfd": [
  {"mach":0.44,"cd":1.136},{"mach":0.48,"cd":0.973},{"mach":0.50,"cd":0.844},{"mach":0.52,"cd":0.833},{"mach":0.54,"cd":0.839},{"mach":0.58,"cd":0.830}
 ],
 "regression": [
  {"mach":0.44,"cd":1.140},{"mach":0.46,"cd":1.042},{"mach":0.48,"cd":0.945},{"mach":0.50,"cd":0.881},{"mach":0.52,"cd":0.842},{"mach":0.54,"cd":0.822},{"mach":0.56,"cd":0.829},{"mach":0.58,"cd":0.836}
 ]
},
"layer": [
 {
  "data": {"name": "measured"},
  "mark": {"type": "point", "filled": false, "size": 52, "strokeWidth": 1.3, "opacity": 1},
  "encoding": {
   "x": {"field": "mach", "type": "quantitative", "scale": {"domain": [0.42, 0.58], "nice": false, "zero": false},
    "axis": {"orient": "bottom", "values": [0.42,0.44,0.46,0.48,0.5,0.52,0.54,0.56,0.58], "format": "~g", "grid": true, "tickSize": -6, "labelPadding": 18, "title": "Mach number", "titleFontSize": 18.5, "titleY": 55, "titleBaseline": "alphabetic"}},
   "y": {"field": "cd", "type": "quantitative", "scale": {"domain": [0.7, 1.3], "nice": false, "zero": false},
    "axis": {"orient": "left", "values": [0.7,0.8,0.9,1,1.1,1.2,1.3], "format": "~g", "grid": true, "tickSize": -6, "labelPadding": 14, "title": "C", "titleFontSize": 18.5, "titleX": -56.5, "titleY": 231.5, "titleAngle": 270, "titleAlign": "center", "titleBaseline": "middle"}},
   "color": {"datum": "Measured data", "type": "nominal",
    "scale": {"domain": ["Measured data", "CFD results", "CFD results regression"], "range": ["#00ea00", "#1a1a1a", "#808080"]},
    "legend": {"title": null, "encode": {"symbols": {"update": {"fill": {"value": "transparent"}, "strokeWidth": {"value": 1}, "opacity": {"value": 1}}}}}},
   "shape": {"datum": "Measured data", "type": "nominal",
    "scale": {"domain": ["Measured data", "CFD results", "CFD results regression"], "range": ["M-1,-1L1,1M-1,1L1,-1", "M-1.9,-1.55L1.9,-1.55L0,1.7Z", "M-8.5,-0.5L8.5,-0.5M-8.5,-0.1667L8.5,-0.1667M-8.5,0.1667L8.5,0.1667M-8.5,0.5L8.5,0.5"]},
    "legend": {"title": null}}
  }
 },
 {
  "data": {"name": "cfd"},
  "mark": {"type": "point", "filled": false, "size": 40, "strokeWidth": 1, "opacity": 1},
  "encoding": {
   "x": {"field": "mach", "type": "quantitative",
    "axis": {"orient": "top", "values": [0.42,0.44,0.46,0.48,0.5,0.52,0.54,0.56,0.58], "labels": false, "domain": false, "grid": false, "tickSize": -6, "title": null}},
   "y": {"field": "cd", "type": "quantitative",
    "axis": {"orient": "right", "values": [0.7,0.8,0.9,1,1.1,1.2,1.3], "labels": false, "domain": false, "grid": false, "tickSize": -6, "title": null}},
   "color": {"datum": "CFD results", "type": "nominal"},
   "shape": {"datum": "CFD results", "type": "nominal"}
  }
 },
 {
  "data": {"name": "regression"},
  "mark": {"type": "line", "strokeWidth": 3.5},
  "encoding": {
   "x": {"field": "mach", "type": "quantitative", "axis": null},
   "y": {"field": "cd", "type": "quantitative",
    "axis": {"orient": "left", "labels": false, "ticks": false, "domain": false, "grid": false, "title": "D", "titleFontSize": 13.5, "titleX": -47, "titleY": 220, "titleAngle": 270, "titleAlign": "center", "titleBaseline": "middle"}},
   "color": {"datum": "CFD results regression", "type": "nominal"}
  }
 }
],
"resolve": {"axis": {"x": "independent", "y": "independent"}}
}
